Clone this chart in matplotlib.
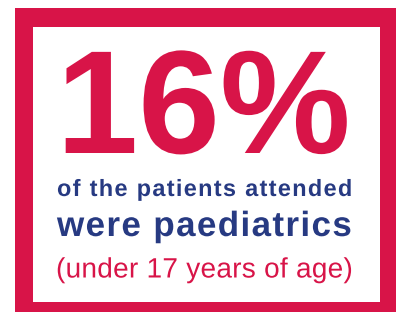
import matplotlib
matplotlib.use("Agg")
import numpy as np
import matplotlib.pyplot as plt
from matplotlib.patches import Rectangle
from matplotlib.patheffects import AbstractPathEffect
from matplotlib.path import Path
from matplotlib.font_manager import FontProperties, findfont, get_font
from matplotlib.textpath import text_to_path

# content
value_text = "16%"
line1 = "of the patients attended"
line2 = "were paediatrics"
line3 = "(under 17 years of age)"

RED = "#D81448"
BLUE = "#273A82"
FAMILY = "Liberation Sans"

W, H = 396, 312
fig = plt.figure(figsize=(W / 100, H / 100), dpi=100)
ax = fig.add_axes([0, 0, 1, 1])
ax.set_xlim(0, W)
ax.set_ylim(H, 0)
ax.axis("off")

ax.add_patch(Rectangle((15, 8), W - 15, H - 8, facecolor=RED, edgecolor="none"))
ax.add_patch(Rectangle((33, 27), 347, 275, facecolor="white", edgecolor="none"))

renderer = fig.canvas.get_renderer()


class Tracking(AbstractPathEffect):
    """Adds letter spacing (in pixels) to a text drawn as a path."""

    def __init__(self, s, prop, track_px):
        super().__init__()
        self.s = s
        self.prop = prop
        self.track_px = track_px

    def draw_path(self, renderer, gc, tpath, affine, rgbFace=None):
        font = get_font(findfont(self.prop))
        font.set_size(text_to_path.FONT_SCALE, text_to_path.DPI)
        info, _, _ = text_to_path.get_glyphs_with_font(font, self.s)
        xs = np.array([g[1] for g in info], dtype=float)
        scale = affine.to_values()[0]
        t = self.track_px / scale
        n = len(self.s)
        verts = np.array(tpath.vertices, dtype=float).copy()
        codes = tpath.codes
        if codes is None or len(xs) == 0:
            renderer.draw_path(gc, tpath, affine, rgbFace)
            return
        starts = list(np.nonzero(codes == Path.MOVETO)[0]) + [len(codes)]
        for a, b in zip(starts[:-1], starts[1:]):
            seg = verts[a:b]
            mask = codes[a:b] != Path.CLOSEPOLY
            cx = (seg[mask, 0].min() + seg[mask, 0].max()) / 2
            idx = int(np.clip(np.searchsorted(xs, cx, side="right") - 1, 0, n - 1))
            verts[a:b, 0] += idx * t - (n - 1) * t / 2
        renderer.draw_path(gc, Path(verts, codes), affine, rgbFace)


def tracked_text(s, x0, x1, baseline, weight, color, size_px):
    size_pt = size_px * 72 / 100
    prop = FontProperties(family=FAMILY, weight=weight, size=size_pt)
    t = ax.text((x0 + x1) / 2, baseline, s, ha="center", va="baseline",
                fontproperties=prop, color=color)
    bb = t.get_window_extent(renderer)
    track = max(0.0, ((x1 - x0) - bb.width) / (len(s) - 1))
    t.set_path_effects([Tracking(s, prop, track)])
    return t


tracked_text(value_text, 64, 343, 153, "bold", RED, 147)
tracked_text(line1, 57, 352, 196, "bold", BLUE, 23.5)
tracked_text(line2, 57, 352, 236, "bold", BLUE, 35)
tracked_text(line3, 56, 353, 277.5, "normal", RED, 28)

fig.savefig("out.png", dpi=100)
